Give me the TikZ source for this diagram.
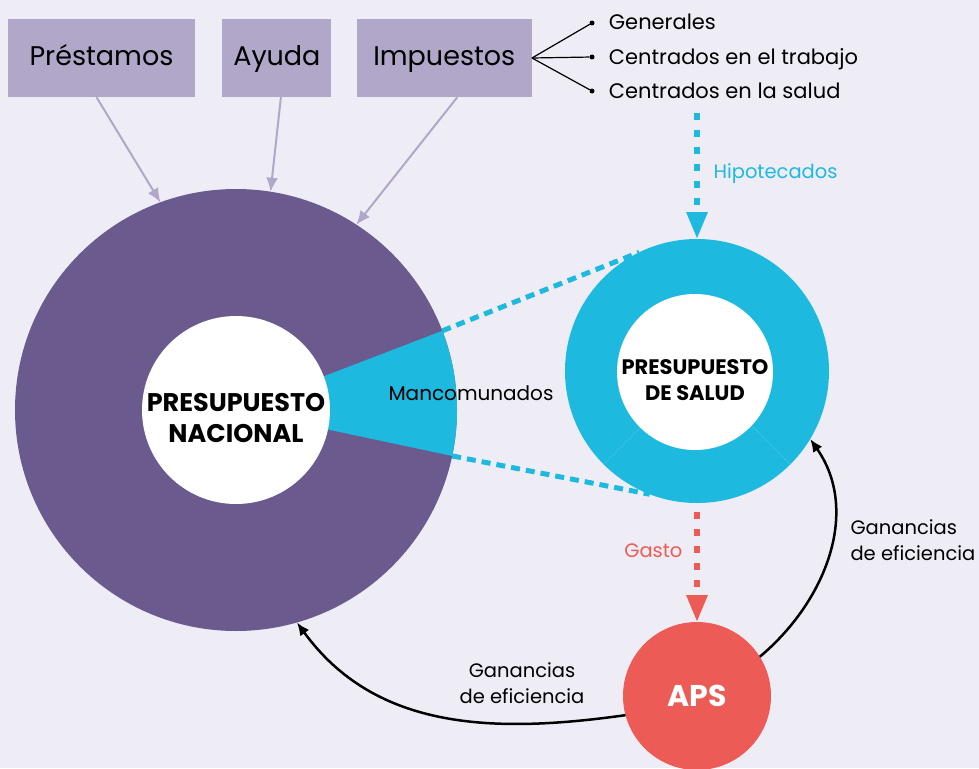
\documentclass[tikz,border=0pt]{standalone}
\usepackage{fontspec}
\setmainfont{Poppins}
\usetikzlibrary{arrows.meta,positioning}
\definecolor{fondo}{HTML}{EEEDF6}
\definecolor{lila}{HTML}{B1A7C8}
\definecolor{morado}{HTML}{6A5A8E}
\definecolor{celeste}{HTML}{1EB9DF}
\definecolor{rojo}{HTML}{EC5B55}
\tikzset{
 caja/.style={fill=lila, minimum height=78pt, inner sep=0pt, text height=20pt, text depth=6pt, font=\fontsize{27}{30}\selectfont},
 flujo/.style={draw=lila, line width=2pt, -{Latex[length=14pt,width=12pt]}},
 punto/.style={circle, fill=black, inner sep=0pt, minimum size=5pt},
 item/.style={inner sep=0pt, text height=18pt, text depth=4pt, font=\fontsize{21}{24}\selectfont},
 lbl/.style={font=\fontsize{19.5}{26}\selectfont, align=center},
 anillo/.style={circle, inner sep=0pt, outer sep=0pt},
 centro/.style={circle, fill=white, inner sep=0pt, outer sep=0pt},
 rotulo/.style 2 args={align=center, inner sep=0pt, font=\bfseries\fontsize{#1}{#2}\selectfont},
 guiones/.style={draw=celeste, line width=5pt, dash pattern=on 9pt off 6pt},
 bajada/.style={line width=6pt, dash pattern=on 7pt off 10pt, -{Triangle[length=27pt,width=20pt]}},
 ganancia/.style={draw=black, line width=2.5pt, -{Latex[length=13pt,width=11pt]}},
}
\begin{document}
\begin{tikzpicture}[x=1pt,y=1pt]
\useasboundingbox (0,0) rectangle (979,-768);
\fill[fondo] (0,0) rectangle (979,-768);
\node[caja, minimum width=187pt] (prest) at (101.5,-58) {Préstamos};
\node[caja, minimum width=109pt, right=27pt of prest] (ayuda) {Ayuda};
\node[caja, minimum width=175pt, right=25pt of ayuda] (imp) {Impuestos};
\node[punto] (d1) at (592,-23) {};
\node[punto] (d2) at (592,-57) {};
\node[punto] (d3) at (592,-91) {};
\node[item, right=14pt of d1] (gen) {Generales};
\node[item, right=14pt of d2] (trab) {Centrados en el trabajo};
\node[item, right=14pt of d3] (sal) {Centrados en la salud};
\foreach \d in {d1,d2,d3} \draw[line width=1.2pt] (imp.east) -- (\d);
\node[anillo, fill=morado, minimum size=442pt] (nat) at (236,-410) {};
\fill[celeste] (nat.center) -- ([shift={(-12:221)}]nat.center) arc[start angle=-12, end angle=21, radius=221] -- cycle;
\node[centro, minimum size=188pt] (natin) at (nat) {};
\node[rotulo={25.5}{31}] (nattxt) at ([yshift=-8pt]natin) {PRESUPUESTO\\NACIONAL};
\draw[flujo] ([xshift=-5pt]prest.south) -- (nat.110);
\draw[flujo] ([xshift=4pt]ayuda.south) -- (nat.81);
\draw[flujo] ([xshift=13pt]imp.south) -- (nat.57);
\node[anillo, fill=celeste, minimum size=264pt] (salud) at (697,-371) {};
\foreach \a in {225,315} \draw[celeste!85!white, line width=0.6pt] ([shift={(\a:78)}]salud.center) -- (salud.\a);
\node[centro, minimum size=156pt] (saludin) at (695,-372) {};
\node[rotulo={21}{26}] (saludtxt) at ([yshift=-8pt]saludin) {PRESUPUESTO\\DE SALUD};
\draw[guiones] (nat.21) -- (salud.116);
\draw[guiones] (nat.-12) -- (salud.249);
\node[lbl, font=\fontsize{20}{26}\selectfont] (manc) at (471,-393) {Mancomunados};
\coordinate (hs) at (697,-113);
\draw[bajada, celeste] (hs) -- (salud.north);
\node[lbl, celeste, anchor=west] (hip) at (710,-174) {Hipotecados};
\node[anillo, fill=rojo, minimum size=148pt, text=white, font=\bfseries\fontsize{30}{36}\selectfont] (aps) at (697,-696) {APS};
\draw[bajada, rojo, shorten <=9pt] (salud.south) -- (aps.north);
\node[lbl, rojo, anchor=east] (gasto) at (686,-551) {Gasto};
\draw[ganancia] (aps.32) to[out=40, in=-55] (salud.-31);
\draw[ganancia] (aps.195) to[out=188, in=-54] (nat.-74);
\node[lbl, anchor=west, align=left] (gan1) at (847,-540) {Ganancias\\de eficiencia};
\node[lbl] (gan2) at (522,-683) {Ganancias\\de eficiencia};
\end{tikzpicture}
\end{document}
